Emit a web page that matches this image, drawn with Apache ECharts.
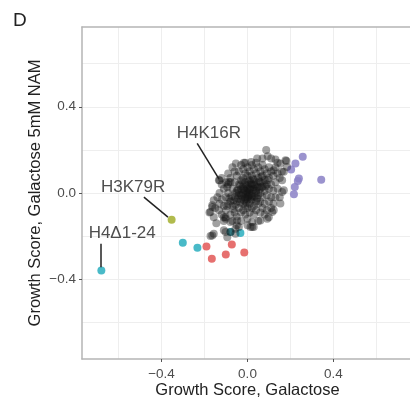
<!DOCTYPE html>
<html><head><meta charset="utf-8">
<script src="https://cdn.jsdelivr.net/npm/echarts@6/dist/echarts.min.js"></script>
<style>html,body{margin:0;padding:0;background:#fff}#c{width:410px;height:403px}</style>
</head><body><div id="c"></div>
<script>
const blackPoints = [
[-0.13,0.059],[0.087,0.199],[0.094,0.171],[-0.054,0.137],[-0.017,0.14],[0.017,0.144],[0.045,0.16],[0.13,0.155],[0.153,0.137],[0.181,0.149],[0.184,0.121],[0.169,0.098],[0.122,0.106],[-0.079,0.051],[-0.094,0.028],[-0.157,-0.034],[-0.164,-0.065],[-0.133,-0.08],[-0.102,-0.112],[-0.079,-0.135],[-0.04,-0.158],[0.022,-0.158],[0.06,-0.127],[0.099,-0.112],[0.122,-0.08],[0.161,0.005],[0.153,-0.049],[-0.157,-0.189],[-0.11,-0.173],[-0.172,-0.2],[-0.094,-0.205],[-0.177,-0.091],[-0.157,-0.112],[-0.102,-0.119],[0.115,-0.088],[0.092,-0.119],[0.029,-0.158],[0.169,0.013],[0.161,0.059],[0.177,0.152],[-0.133,0.059],[-0.087,0.051],
[-0.164,-0.197],[-0.102,-0.181],[-0.079,-0.181],[-0.056,-0.189],[0.014,-0.158],[0.022,-0.135],[-0.172,-0.088],[-0.11,-0.112],[-0.164,-0.057],[-0.048,-0.127],[-0.056,-0.166],
[-0.1,-0.02],[-0.09,0.0],[-0.08,-0.04],[-0.07,0.02],[-0.07,-0.06],[-0.06,0.05],[-0.06,-0.02],[-0.06,-0.09],[-0.05,0.08],[-0.05,0.01],[-0.05,-0.04],[-0.05,-0.11],[-0.04,0.1],[-0.04,0.04],[-0.04,-0.01],[-0.04,-0.07],[-0.03,0.06],[-0.03,0.02],[-0.03,-0.03],[-0.03,-0.09],[-0.03,-0.13],[-0.02,0.11],[-0.02,0.07],[-0.02,0.03],[-0.02,0.0],[-0.02,-0.05],[-0.02,-0.08],[-0.01,0.09],[-0.01,0.05],[-0.01,0.01],[-0.01,-0.02],[-0.01,-0.06],[-0.01,-0.1],[0.0,0.12],[0.0,0.08],[0.0,0.04],[0.0,0.0],[0.0,-0.03],[0.0,-0.07],[0.0,-0.12],[0.01,0.1],[0.01,0.06],[0.01,0.02],[0.01,-0.01],[0.01,-0.05],[0.01,-0.09],[0.02,0.13],[0.02,0.08],[0.02,0.04],[0.02,0.0],[0.02,-0.03],[0.02,-0.07],[0.03,0.11],[0.03,0.06],[0.03,0.02],[0.03,-0.02],[0.03,-0.06],[0.03,-0.1],[0.04,0.09],[0.04,0.05],[0.04,0.01],[0.04,-0.04],[0.04,-0.08],[0.05,0.12],[0.05,0.07],[0.05,0.03],[0.05,-0.01],[0.05,-0.05],[0.06,0.1],[0.06,0.05],[0.06,0.0],[0.06,-0.04],[0.06,-0.09],[0.07,0.13],[0.07,0.08],[0.07,0.03],[0.07,-0.02],[0.07,-0.07],[0.08,0.11],[0.08,0.06],[0.08,0.01],[0.08,-0.05],[0.09,0.09],[0.09,0.04],[0.09,-0.01],[0.09,-0.08],[0.1,0.12],[0.1,0.07],[0.1,0.02],[0.1,-0.04],[0.11,0.1],[0.11,0.04],[0.11,-0.02],[0.12,0.08],[0.12,0.01],[0.12,-0.05],[0.13,0.05],[0.13,-0.02],[0.14,0.09],[0.14,0.02],
[-0.11,0.02],[-0.11,-0.06],[-0.12,-0.03],[-0.12,-0.1],[-0.13,0.0],[-0.13,-0.05],[-0.14,-0.02],[-0.1,-0.08],[-0.09,-0.05],[-0.09,0.04],[-0.08,0.07],[-0.08,-0.1],[-0.07,-0.13],[-0.06,0.1],[-0.1,0.05],[-0.11,-0.13],[-0.12,0.04],[-0.15,-0.07],[-0.145,-0.14],[-0.05,-0.15],[0.0,-0.15],[0.05,-0.13],[0.08,-0.1],[0.11,-0.07],[0.13,0.12],[0.15,0.07],[0.15,-0.02],[0.16,0.1],[0.14,0.14],[0.11,0.16],[0.07,0.16],[0.04,0.14],[-0.01,0.14],[-0.03,0.13],[-0.07,0.12],[-0.09,0.09],[-0.12,0.07],
[-0.015,0.015],[0.005,-0.015],[0.015,0.025],[-0.025,-0.015],[0.025,0.015],[-0.005,0.035],[0.035,0.035],[-0.035,-0.045],[0.045,0.025],[-0.045,0.015],[0.015,-0.035],[-0.015,-0.035],[0.005,0.055],[0.055,0.055],[-0.055,-0.055],[0.035,-0.015],[-0.035,0.035],[0.065,0.025],[-0.065,-0.035],[0.025,0.065],[-0.025,0.055],[0.045,-0.025],[-0.005,-0.045],[0.015,0.045],[-0.045,-0.025],[0.075,0.045],[-0.075,-0.015],[0.005,0.005],[-0.005,-0.005],[0.01,0.015],[-0.02,0.02],[0.02,-0.015],[-0.01,-0.025],[0.03,0.04],[-0.03,-0.01],[0.0,0.02],[0.0,-0.02],[0.04,0.0],[-0.04,0.0],[0.055,0.015],[-0.055,0.0],[0.085,0.03],[-0.085,-0.025],[0.065,0.075],[-0.065,-0.075],[0.095,0.06],[-0.095,-0.06]
];
const purplePoints = [[0.257,0.168],[0.223,0.137],[0.203,0.109],[0.239,0.067],[0.234,0.056],[0.22,0.028],[0.216,-0.006],[0.343,0.062]];
const redPoints = [[-0.191,-0.248],[-0.166,-0.305],[-0.101,-0.285],[-0.073,-0.239],[-0.015,-0.276]];
const cyanPoints = [[-0.68,-0.36],[-0.301,-0.231],[-0.233,-0.254],[-0.033,-0.186],[-0.079,-0.181]];
const olivePoints = [[-0.353,-0.124]];
const tickValues = [-0.4, 0, 0.4];
const gridValues = [-0.6, -0.4, -0.2, 0, 0.2, 0.4, 0.6];
const labelNames = ['H4K16R', 'H3K79R', 'H4\u03941-24'];
const labelPos = [[-0.18, 0.276], [-0.532, 0.028], [-0.583, -0.189]];
const lineStarts = [[-0.234, 0.23], [-0.482, -0.019], [-0.683, -0.235]];
const lineEnds = [[-0.133, 0.066], [-0.37, -0.112], [-0.683, -0.344]];

const FONT = 'Liberation Sans, Arial, sans-serif';
const AX_MIN = -0.77, AX_MAX = 0.77;
const fmt = v => (v < 0 ? '\u2212' : '') + Math.abs(v).toFixed(1);

const chart = echarts.init(document.getElementById('c'), null, {renderer: 'canvas'});
const mainAxis = (isX) => ({
  type: 'value', min: AX_MIN, max: AX_MAX,
  position: isX ? 'bottom' : 'left',
  axisLine: {show: true, onZero: false, lineStyle: {color: '#b5b5b5', width: 1.5}},
  axisTick: {show: true, length: 3, customValues: tickValues, lineStyle: {color: '#555', width: 1}},
  axisLabel: {show: true, customValues: tickValues, formatter: fmt, color: '#4d4d4d', fontSize: 13.5, fontFamily: FONT, margin: isX ? 8 : 6},
  splitLine: {show: false},
  name: isX ? 'Growth Score, Galactose' : 'Growth Score, Galactose 5mM NAM',
  nameLocation: 'middle',
  nameMoveOverlap: false,
  nameGap: isX ? 23 : 38,
  nameTextStyle: {color: '#222', fontSize: 16.5, fontFamily: FONT}
});
const gridAxis = (isX) => ({
  type: 'value', min: AX_MIN, max: AX_MAX,
  position: isX ? 'top' : 'right',
  axisLine: {show: isX, onZero: false, lineStyle: {color: '#b5b5b5', width: 1.5}},
  axisTick: {show: false, customValues: gridValues},
  axisLabel: {show: false},
  splitLine: {show: true, lineStyle: {color: '#eeeeee', width: 1}}
});

const option = {
  backgroundColor: '#fff',
  animation: false,
  title: {text: 'D', left: 8, top: 6, textStyle: {fontSize: 19, fontWeight: 'normal', color: '#222', fontFamily: FONT}},
  grid: {left: 82, top: 27, width: 331, height: 332, containLabel: false, outerBoundsMode: 'none'},
  xAxis: [mainAxis(true), gridAxis(true)],
  yAxis: [mainAxis(false), gridAxis(false)],
  series: [
    {type: 'scatter', data: purplePoints, symbolSize: 8, itemStyle: {color: '#8a80c6', opacity: 0.85}},
    {type: 'scatter', data: redPoints, symbolSize: 8, itemStyle: {color: '#e3605f', opacity: 0.9}},
    {type: 'scatter', data: cyanPoints, symbolSize: 8, itemStyle: {color: '#35b2c2', opacity: 0.9}},
    {type: 'scatter', data: olivePoints, symbolSize: 8, itemStyle: {color: '#a8b43a', opacity: 0.9}},
    {type: 'scatter', data: blackPoints, symbolSize: 8, itemStyle: {color: 'rgba(20,20,20,0.5)'}},
    {type: 'lines', coordinateSystem: 'cartesian2d', z: 5,
      data: lineStarts.map((s, i) => ({coords: [s, lineEnds[i]]})),
      lineStyle: {color: '#222', width: 1.5, opacity: 1}},
    {type: 'scatter', symbolSize: 0, z: 6,
      data: labelPos.map((p, i) => ({value: p, name: labelNames[i]})),
      label: {show: true, position: 'inside', formatter: p => p.name, color: '#222', fontSize: 17, fontFamily: FONT}}
  ]
};
chart.setOption(option);
</script></body></html>
